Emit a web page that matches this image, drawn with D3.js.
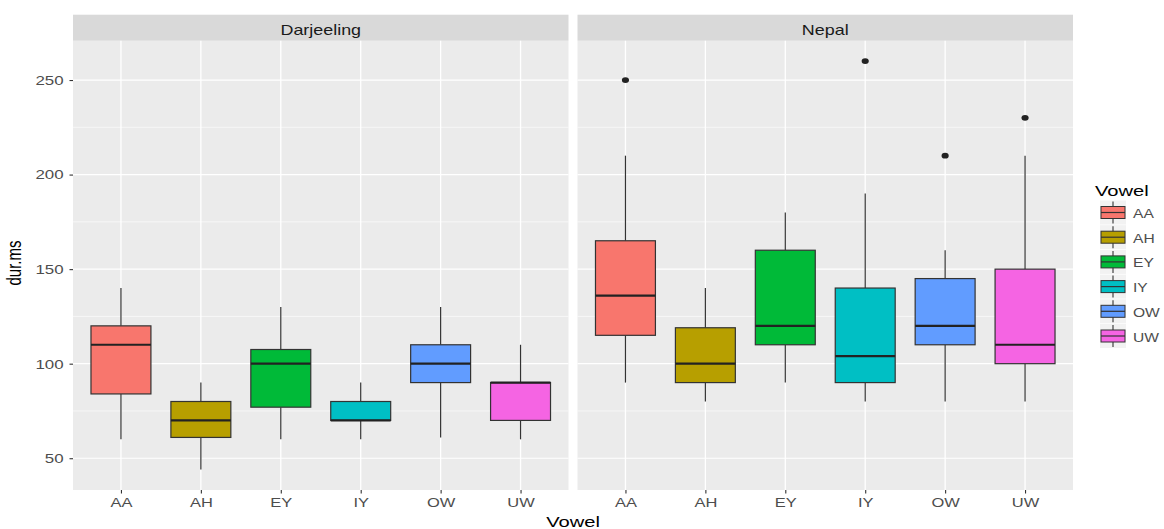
<!DOCTYPE html>
<html><head><meta charset="utf-8">
<script src="https://cdn.jsdelivr.net/npm/d3@7"></script>
<style>body{margin:0;background:#fff;font-family:"Liberation Sans",Arial,sans-serif;}</style>
</head><body>
<svg id="c" width="1164" height="529"></svg>
<script>
const vowels = ["AA","AH","EY","IY","OW","UW"];
const facets = ["Darjeeling","Nepal"];
const colors = ["#F8766D","#B79F00","#00BA38","#00BFC4","#619CFF","#F564E3"];
const yTicks = [50,100,150,200,250];
// [lowerWhisker, q1, median, q3, upperWhisker] per vowel
const darjeelingStats = [
  [60, 84, 110, 120, 140],
  [44, 61, 70, 80, 90],
  [60, 77, 100, 107.5, 130],
  [60, 70, 70, 80, 90],
  [61, 90, 100, 110, 130],
  [60, 70, 90, 90, 110]
];
const nepalStats = [
  [90, 115, 136, 165, 210],
  [80, 90, 100, 119, 140],
  [90, 110, 120, 160, 180],
  [80, 90, 104, 140, 190],
  [80, 110, 120, 145, 160],
  [80, 100, 110, 150, 210]
];
const darjeelingOutliers = [[],[],[],[],[],[]];
const nepalOutliers = [[250],[],[],[260],[210],[230]];

const statsByFacet = [darjeelingStats, nepalStats];
const outByFacet = [darjeelingOutliers, nepalOutliers];

const svg = d3.select("#c");
const plotTop = 40.7, plotBottom = 490;
const panelX = [[73, 568.5], [577.5, 1073]];
const y = d3.scaleLinear().domain([33.2, 270.8]).range([plotBottom, plotTop]);
const minorTicks = [75, 125, 175, 225];

const textCol = "#4D4D4D";
const FONT = "Liberation Sans, Arial, sans-serif";

function stext(parent, x, yy, str, size, sx, anchor, fill) {
  return parent.append("text")
    .attr("transform", `translate(${x},${yy}) scale(${sx},1)`)
    .attr("text-anchor", anchor).attr("font-size", size).attr("fill", fill)
    .attr("font-family", FONT).text(str);
}

facets.forEach((f, fi) => {
  const [x0, x1] = panelX[fi];
  const xp = d3.scalePoint().domain(vowels).range([x0, x1]).padding(0.6);
  const step = xp.step();
  const g = svg.append("g");
  g.append("rect").attr("x", x0).attr("y", plotTop).attr("width", x1 - x0).attr("height", plotBottom - plotTop).attr("fill", "#EBEBEB");
  g.append("rect").attr("x", x0).attr("y", 14.7).attr("width", x1 - x0).attr("height", plotTop - 14.7).attr("fill", "#D9D9D9");
  stext(g, (x0 + x1) / 2, 34.5, f, 14, 1.28, "middle", "#1A1A1A");
  g.selectAll(".mn").data(minorTicks).enter().append("line")
    .attr("x1", x0).attr("x2", x1).attr("y1", d => y(d)).attr("y2", d => y(d))
    .attr("stroke", "#fff").attr("stroke-width", 0.6);
  g.selectAll(".mj").data(yTicks).enter().append("line")
    .attr("x1", x0).attr("x2", x1).attr("y1", d => y(d)).attr("y2", d => y(d))
    .attr("stroke", "#fff").attr("stroke-width", 1.2);
  g.selectAll(".vx").data(vowels).enter().append("line")
    .attr("x1", d => xp(d)).attr("x2", d => xp(d)).attr("y1", plotTop).attr("y2", plotBottom)
    .attr("stroke", "#fff").attr("stroke-width", 1.3);

  const bw = step * 0.75;
  statsByFacet[fi].forEach((s, i) => {
    const cx = xp(vowels[i]);
    const bg = g.append("g");
    bg.append("line").attr("x1", cx).attr("x2", cx).attr("y1", y(s[4])).attr("y2", y(s[3]))
      .attr("stroke", "#333").attr("stroke-width", 1.2);
    bg.append("line").attr("x1", cx).attr("x2", cx).attr("y1", y(s[1])).attr("y2", y(s[0]))
      .attr("stroke", "#333").attr("stroke-width", 1.2);
    bg.append("rect").attr("x", cx - bw / 2).attr("y", y(s[3])).attr("width", bw)
      .attr("height", y(s[1]) - y(s[3])).attr("fill", colors[i]).attr("stroke", "#333").attr("stroke-width", 1.2);
    bg.append("line").attr("x1", cx - bw / 2).attr("x2", cx + bw / 2).attr("y1", y(s[2])).attr("y2", y(s[2]))
      .attr("stroke", "#222").attr("stroke-width", 2.2);
    outByFacet[fi][i].forEach(o => {
      bg.append("ellipse").attr("cx", cx).attr("cy", y(o)).attr("rx", 3.6).attr("ry", 2.9).attr("fill", "#222");
    });
  });

  const xa = g.append("g").attr("transform", `translate(0,${plotBottom})`)
    .call(d3.axisBottom(xp).tickSize(3.5).tickPadding(4));
  xa.select(".domain").remove();
  xa.selectAll("line").attr("stroke", "#333").attr("stroke-width", 1.1);
  xa.selectAll("text").attr("font-size", 13.5).attr("fill", textCol).attr("font-family", FONT)
    .attr("transform", "scale(1.22,1)");

  if (fi === 0) {
    const ya = g.append("g").attr("transform", `translate(${x0},0)`)
      .call(d3.axisLeft(y).tickValues(yTicks).tickSize(3.5).tickPadding(4));
    ya.select(".domain").remove();
    ya.selectAll("line").attr("stroke", "#333").attr("stroke-width", 1.1);
    ya.selectAll("text").attr("font-size", 13.5).attr("fill", textCol).attr("font-family", FONT)
      .attr("transform", "scale(1.25,1)");
  }
});

stext(svg, (73 + 1073) / 2, 527, "Vowel", 15.5, 1.3, "middle", "#000");
svg.append("text").attr("transform", `translate(20.5,263) scale(1.3,1) rotate(-90)`)
  .attr("text-anchor", "middle").attr("font-size", 15).attr("fill", "#000").attr("font-family", FONT).text("dur.ms");

const lg = svg.append("g");
stext(lg, 1095, 195.5, "Vowel", 15.5, 1.3, "start", "#000");
vowels.forEach((v, i) => {
  const cy = 212.5 + i * 24.7;
  const kx = 1101, kw = 24;
  lg.append("rect").attr("x", kx - 1).attr("y", cy - 12).attr("width", kw + 2).attr("height", 24).attr("fill", "#F2F2F2");
  lg.append("line").attr("x1", kx + kw / 2).attr("x2", kx + kw / 2).attr("y1", cy - 11).attr("y2", cy + 11)
    .attr("stroke", "#333").attr("stroke-width", 1.1);
  lg.append("rect").attr("x", kx).attr("y", cy - 6).attr("width", kw).attr("height", 12)
    .attr("fill", colors[i]).attr("stroke", "#333").attr("stroke-width", 1);
  lg.append("line").attr("x1", kx).attr("x2", kx + kw).attr("y1", cy).attr("y2", cy)
    .attr("stroke", "#333").attr("stroke-width", 1.2);
  stext(lg, 1133, cy + 5.5, v, 13, 1.2, "start", textCol);
});
</script>
</body></html>
